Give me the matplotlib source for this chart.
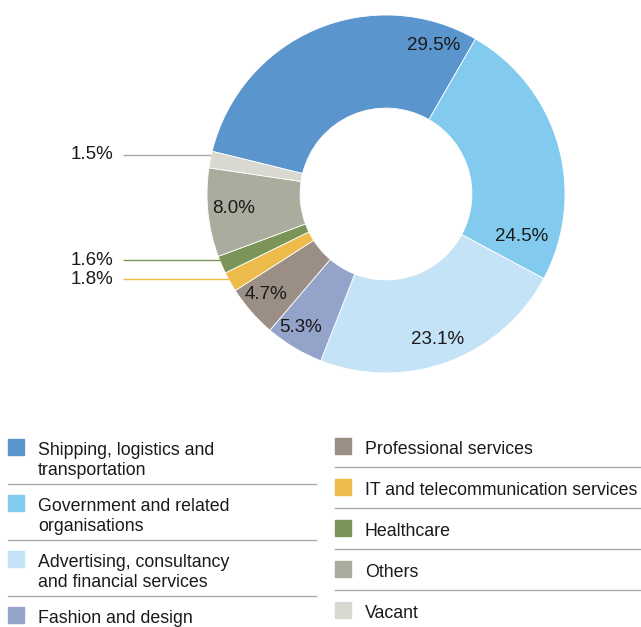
import numpy as np
import matplotlib
matplotlib.use('Agg')
import matplotlib.pyplot as plt
from matplotlib.patches import Rectangle

plt.rcParams['font.family'] = ['Liberation Sans', 'DejaVu Sans']

# tenant mix by sector, clockwise from the shipping slice
sectors = ['Shipping, logistics and\ntransportation',
           'Government and related\norganisations',
           'Advertising, consultancy\nand financial services',
           'Fashion and design',
           'Professional services',
           'IT and telecommunication services',
           'Healthcare',
           'Others',
           'Vacant']
shares = [29.5, 24.5, 23.1, 5.3, 4.7, 1.8, 1.6, 8.0, 1.5]
colors = ['#5A95CD', '#82CBEE', '#C4E3F6', '#93A3C9', '#9A8E85',
          '#EDBB4C', '#7B9558', '#ABAB9E', '#D9D9D2']

# inside labels: (index, angle clockwise from top in deg, radius)
inner_labels = [(0, 17.8, 0.874), (1, 107.2, 0.795), (2, 160.6, 0.859),
                (3, 212.6, 0.882), (4, 230.2, 0.873), (7, 264.7, 0.853)]
# small slices labelled outside: (index, leader angle, line colour)
outer_labels = [(8, 282.6, '#AAAAA4'), (6, 248.35, '#7B9558'),
                (5, 241.5, '#EDBB4C')]

W, H = 641, 627
fig = plt.figure(figsize=(W / 100, H / 100), dpi=100)

cx, cy, R = 386, 194, 179
ax = fig.add_axes([(cx - R) / W, 1 - (cy + R) / H, 2 * R / W, 2 * R / H])

ax.pie(shares, colors=colors, startangle=90 + 76.2, counterclock=False,
       radius=1, wedgeprops=dict(width=0.52, edgecolor='white', linewidth=0.6))
ax.set_xlim(-1, 1)
ax.set_ylim(-1, 1)
ax.axis('off')

for i, ang, r in inner_labels:
    a = np.radians(ang)
    ax.text(r * np.sin(a), r * np.cos(a), '%.1f%%' % shares[i],
            ha='center', va='center', fontsize=13.5, color='#1a1a1a')

line_x0 = (123 - cx) / R
text_x = (113 - cx) / R
for i, ang, lc in outer_labels:
    y = np.cos(np.radians(ang))
    x_end = -np.sqrt(1 - y ** 2)
    ax.plot([line_x0, x_end], [y, y], color=lc, lw=1, clip_on=False,
            solid_capstyle='butt')
    ax.text(text_x, y, '%.1f%%' % shares[i], ha='right', va='center',
            fontsize=13.5, color='#1a1a1a', clip_on=False)


def fx(px):
    return px / W


def fy(py):
    return 1 - py / H


# legend: two columns of swatches with grey rules between rows
def legend_row(x, top, name, color):
    fig.patches.append(Rectangle((fx(x), fy(top + 16)), 16 / W, 16 / H,
                                 color=color, transform=fig.transFigure))
    # baseline alignment goes by the last line of the label
    base = top + 16 + 20 * name.count('\n')
    fig.text(fx(x + 30), fy(base), name, fontsize=12.8, color='#1a1a1a',
             va='baseline', linespacing=1.2)


def rule(x0, x1, y):
    fig.add_artist(plt.Line2D([fx(x0), fx(x1)], [fy(y), fy(y)],
                              color='#AAAAAA', lw=1.0))


left_top = [439, 495, 551, 607]
for k, top in enumerate(left_top):
    legend_row(8, top, sectors[k], colors[k])
for y in [484, 540, 596]:
    rule(8, 316, y)

right_top = [438, 479, 520, 561, 602]
for k, top in enumerate(right_top):
    legend_row(335, top, sectors[4 + k], colors[4 + k])
for y in [467, 508, 549, 590]:
    rule(335, 641, y)

fig.savefig('out.png', dpi=100, facecolor='white')
